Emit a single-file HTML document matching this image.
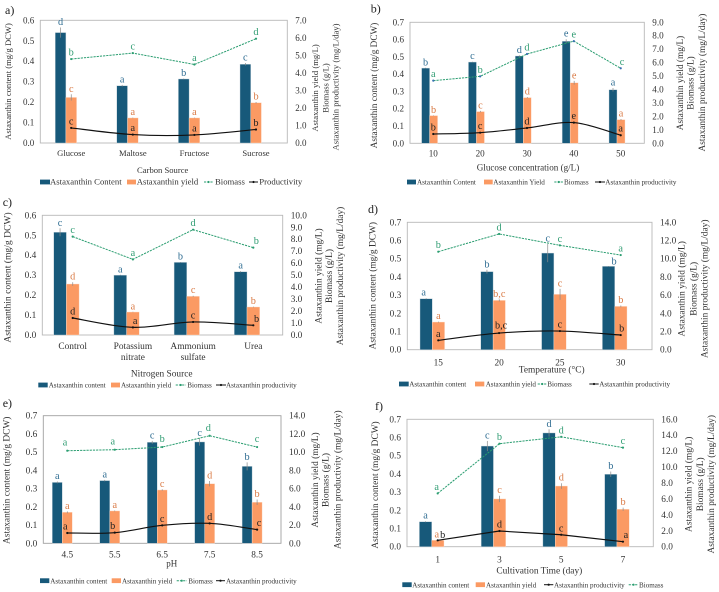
<!DOCTYPE html>
<html lang="en">
<head>
<meta charset="utf-8">
<title>Astaxanthin production charts</title>
<style>
html,body{margin:0;padding:0;background:#fff;width:719px;height:592px;overflow:hidden}
svg{display:block}
text{font-family:"Liberation Serif",serif;fill:#333}
</style>
</head>
<body>
<svg id="figure" xmlns="http://www.w3.org/2000/svg" width="719" height="592" viewBox="0 0 719 592"></svg>
<script>
/* ---------- panel a data ---------- */
const aCategories = [['Glucose'], ['Maltose'], ['Fructose'], ['Sucrose']];
const aLeftTicks = ['0.0','0.1','0.2','0.3','0.4','0.5','0.6'];
const aRightTicks = ['0.0','1.0','2.0','3.0','4.0','5.0','6.0','7.0'];
const aContent = [0.54, 0.28, 0.313, 0.385];
const aContentErr = [0.025, 0.004, 0.002, 0.006];
const aYield = [2.6, 1.43, 1.43, 2.3];
const aYieldErr = [0.18, 0.02, 0.02, 0.04];
const aBiomass = [4.79, 5.13, 4.48, 5.95];
const aProductivity = [0.86, 0.48, 0.46, 0.77];
const aContentLetters = ['d','a','b','c'];
const aYieldLetters = ['c','a','a','b'];
const aBiomassLetters = ['b','c','a','d'];
const aProductivityLetters = ['c','a','a','b'];

/* ---------- panel b data ---------- */
const bCategories = [['10'], ['20'], ['30'], ['40'], ['50']];
const bLeftTicks = ['0.0','0.1','0.2','0.3','0.4','0.5','0.6','0.7'];
const bRightTicks = ['0.0','1.0','2.0','3.0','4.0','5.0','6.0','7.0','8.0','9.0'];
const bContent = [0.435, 0.47, 0.505, 0.59, 0.31];
const bContentErr = [0.002, 0.002, 0.004, 0.012, 0.01];
const bYield = [2.06, 2.36, 3.4, 4.5, 1.76];
const bYieldErr = [0.02, 0.05, 0.04, 0.14, 0.05];
const bBiomass = [4.66, 4.98, 6.64, 7.6, 5.58];
const bProductivity = [0.69, 0.79, 1.14, 1.54, 0.6];
const bContentLetters = ['b','c','d','e','a'];
const bYieldLetters = ['b','c','d','e','a'];
const bBiomassLetters = ['a','b','d','e','c'];
const bProductivityLetters = ['b','c','d','e','a'];

/* ---------- panel c data ---------- */
const cCategories = [['Control'], ['Potassium','nitrate'], ['Ammonium','sulfate'], ['Urea']];
const cLeftTicks = ['0.0','0.1','0.2','0.3','0.4','0.5','0.6'];
const cRightTicks = ['0.0','1.0','2.0','3.0','4.0','5.0','6.0','7.0','8.0','9.0','10.0'];
const cContent = [0.515, 0.30, 0.364, 0.317];
const cContentErr = [0.02, 0.002, 0.002, 0.003];
const cYield = [4.26, 1.92, 3.23, 2.34];
const cYieldErr = [0.15, 0.02, 0.05, 0.03];
const cBiomass = [8.22, 6.32, 8.8, 7.3];
const cProductivity = [1.42, 0.64, 1.09, 0.81];
const cContentLetters = ['c','a','b','a'];
const cYieldLetters = ['d','a','c','b'];
const cBiomassLetters = ['c','a','d','b'];
const cProductivityLetters = ['d','a','c','b'];

/* ---------- panel d data ---------- */
const dCategories = [['15'], ['20'], ['25'], ['30']];
const dLeftTicks = ['0.0','0.1','0.2','0.3','0.4','0.5','0.6','0.7'];
const dRightTicks = ['0.0','2.0','4.0','6.0','8.0','10.0','12.0','14.0'];
const dContent = [0.28, 0.429, 0.531, 0.458];
const dContentErr = [0.003, 0.01, 0.05, 0.002];
const dYield = [3.04, 5.42, 6.08, 4.76];
const dYieldErr = [0.05, 0.12, 0.6, 0.1];
const dBiomass = [10.77, 12.72, 11.47, 10.4];
const dProductivity = [1.03, 1.83, 2.05, 1.61];
const dContentLetters = ['a','b','c','b'];
const dYieldLetters = ['a','b,c','c','b'];
const dBiomassLetters = ['b','d','c','a'];
const dProductivityLetters = ['a','b,c','c','b'];

/* ---------- panel e data ---------- */
const eCategories = [['4.5'], ['5.5'], ['6.5'], ['7.5'], ['8.5']];
const eLeftTicks = ['0.0','0.1','0.2','0.3','0.4','0.5','0.6','0.7'];
const eRightTicks = ['0.0','2.0','4.0','6.0','8.0','10.0','12.0','14.0'];
const eContent = [0.334, 0.344, 0.554, 0.556, 0.422];
const eContentErr = [0.005, 0.004, 0.008, 0.02, 0.022];
const eYield = [3.4, 3.55, 5.85, 6.54, 4.5];
const eYieldErr = [0.1, 0.05, 0.08, 0.3, 0.3];
const eBiomass = [10.16, 10.27, 10.56, 11.8, 10.56];
const eProductivity = [1.13, 1.17, 1.97, 2.19, 1.5];
const eContentLetters = ['a','a','c','c','b'];
const eYieldLetters = ['a','a','c','d','b'];
const eBiomassLetters = ['a','a','b','d','c'];
const eProductivityLetters = ['a','b','c','d','c'];

/* ---------- panel f data ---------- */
const fCategories = [['1'], ['3'], ['5'], ['7']];
const fLeftTicks = ['0.0','0.1','0.2','0.3','0.4','0.5','0.6','0.7'];
const fRightTicks = ['0.0','2.0','4.0','6.0','8.0','10.0','12.0','14.0','16.0'];
const fContent = [0.137, 0.553, 0.625, 0.398];
const fContentErr = [0.003, 0.028, 0.02, 0.015];
const fYield = [0.8, 6, 7.62, 4.7];
const fYieldErr = [0.03, 0.4, 0.35, 0.2];
const fBiomass = [6.7, 12.94, 13.8, 12.44];
const fProductivity = [0.8, 1.97, 1.5, 0.63];
const fContentLetters = ['a','c','d','b'];
const fYieldLetters = ['a','c','d','b'];
const fBiomassLetters = ['a','b','d','c'];
const fProductivityLetters = ['b','d','c','a'];

/* ---------- layout of each panel ---------- */
const panels = [
 {id:'a', tag:'a)', tagX:5, tagY:14, box:[40.3,20.3,287.3,143], barW:10.7, barOff:5.3, tick:9, cat:8.6, catY:153, smooth:true,
  first:71.2, step:61.6, frame:'#b8b8b8', biomassLift:3.5,
  cats:aCategories, lt:aLeftTicks, rt:aRightTicks, content:aContent, contentErr:aContentErr, yld:aYield, yldErr:aYieldErr, biomass:aBiomass, prod:aProductivity,
  lc:aContentLetters, ly:aYieldLetters, lb:aBiomassLetters, lp:aProductivityLetters,
  leftTitle:{x:8,y:81.5,size:8.6,text:'Astaxanthin content (mg/g DCW)'},
  rightTitles:[{x:315,y:88,size:8.6,text:'Astaxanthin yield (mg/L)'},{x:325.7,y:88,size:8.6,text:'Biomass (g/L)'},{x:335.7,y:87,size:8.6,text:'Astaxanthin productivity (mg/L/day)'}],
  xTitle:{x:162.7,y:170,size:8.6,text:'Carbon Source'},
  legendY:182, legendSize:8.7,
  legend:[{k:'content',x0:40,x1:50,tx:50,text:'Astaxanthin Content'},{k:'yield',x0:127,x1:136,tx:136.7,text:'Astaxanthin yield'},{k:'biomass',x0:204,x1:213,tx:215,text:'Biomass'},{k:'prod',x0:249,x1:258,tx:259.3,text:'Productivity'}]},
 {id:'b', tag:'b)', tagX:370.7, tagY:12.5, box:[410,22.3,644.3,143.3], barW:8, barOff:3.7, tick:9.1, cat:9.1, catY:153.5, smooth:true,
  first:433.3, step:46.85, frame:'#b8b8b8', biomassLift:3.5,
  cats:bCategories, lt:bLeftTicks, rt:bRightTicks, content:bContent, contentErr:bContentErr, yld:bYield, yldErr:bYieldErr, biomass:bBiomass, prod:bProductivity,
  lc:bContentLetters, ly:bYieldLetters, lb:bBiomassLetters, lp:bProductivityLetters,
  leftTitle:{x:374,y:85.5,size:9.26,text:'Astaxanthin content (mg/g DCW)'},
  rightTitles:[{x:680,y:83,size:9.3,text:'Astaxanthin yield (mg/L)'},{x:690.7,y:83,size:9.3,text:'Biomass (g/L)'},{x:702,y:82.6,size:9.34,text:'Astaxanthin productivity (mg/L/day)'}],
  xTitle:{x:528,y:167.7,size:9.1,text:'Glucose concentration (g/L)'},
  legendY:182, legendSize:7.15,
  legend:[{k:'content',x0:407,x1:416,tx:417,text:'Astaxanthin Content'},{k:'yield',x0:484,x1:492.7,tx:493.3,text:'Astaxanthin Yield'},{k:'biomass',x0:554.3,x1:563.3,tx:564,text:'Biomass'},{k:'prod',x0:595,x1:605,tx:605.3,text:'Astaxanthin productivity'}]},
 {id:'c', tag:'c)', tagX:2.7, tagY:206, box:[42.3,215.3,282.7,335], barW:12.7, barOff:6.3, tick:9.3, cat:9.4, catY:346, smooth:true,
  first:72.7, step:60.2, frame:'#b8b8b8', biomassLift:3.5,
  cats:cCategories, lt:cLeftTicks, rt:cRightTicks, content:cContent, contentErr:cContentErr, yld:cYield, yldErr:cYieldErr, biomass:cBiomass, prod:cProductivity,
  lc:cContentLetters, ly:cYieldLetters, lb:cBiomassLetters, lp:cProductivityLetters,
  leftTitle:{x:7.3,y:277.5,size:9.6,text:'Astaxanthin content (mg/g DCW)'},
  rightTitles:[{x:318.3,y:276,size:9.4,text:'Astaxanthin yield (mg/L)'},{x:329,y:276,size:9.4,text:'Biomass (g/L)'},{x:340,y:276,size:9.4,text:'Astaxanthin productivity (mg/L/day)'}],
  xTitle:{x:161.7,y:373.3,size:9.4,text:'Nitrogen Source'},
  legendY:385, legendSize:7.1,
  legend:[{k:'content',x0:38.3,x1:47.7,tx:48.7,text:'Astaxanthin content'},{k:'yield',x0:111,x1:120,tx:121,text:'Astaxanthin yield'},{k:'biomass',x0:175.7,x1:185.7,tx:187.3,text:'Biomass'},{k:'prod',x0:216,x1:226,tx:226,text:'Astaxanthin productivity'}]},
 {id:'d', tag:'d)', tagX:368, tagY:213, box:[407.3,222.3,652,349.7], barW:12.3, barOff:6, tick:9.3, cat:9.3, catY:362.7, smooth:true,
  first:438.3, step:60.8, frame:'#b8b8b8', biomassLift:3.5,
  cats:dCategories, lt:dLeftTicks, rt:dRightTicks, content:dContent, contentErr:dContentErr, yld:dYield, yldErr:dYieldErr, biomass:dBiomass, prod:dProductivity,
  lc:dContentLetters, ly:dYieldLetters, lb:dBiomassLetters, lp:dProductivityLetters,
  leftTitle:{x:372.7,y:285.7,size:9.4,text:'Astaxanthin content (mg/g DCW)'},
  rightTitles:[{x:681.7,y:288.8,size:9.4,text:'Astaxanthin yield (mg/L)'},{x:693.3,y:288.8,size:9.4,text:'Biomass (g/L)'},{x:704.3,y:288.8,size:9.4,text:'Astaxanthin productivity (mg/L/day)'}],
  xTitle:{x:551.7,y:369.3,size:9.4,text:'Temperature (°C)'},
  legendY:384, legendSize:7.1,
  legend:[{k:'content',x0:399,x1:408.7,tx:409.3,text:'Astaxanthin content'},{k:'yield',x0:475,x1:484.3,tx:485.7,text:'Astaxanthin yield'},{k:'biomass',x0:537.7,x1:546.7,tx:547.3,text:'Biomass'},{k:'prod',x0:589.3,x1:598.7,tx:599.3,text:'Astaxanthin productivity'}]},
 {id:'e', tag:'e)', tagX:2.7, tagY:407, box:[43.3,415.7,281,543.3], barW:10, barOff:5, tick:9.3, cat:9.3, catY:554.3, smooth:true,
  first:67.3, step:47.45, frame:'#a0a0a0', biomassLift:5,
  cats:eCategories, lt:eLeftTicks, rt:eRightTicks, content:eContent, contentErr:eContentErr, yld:eYield, yldErr:eYieldErr, biomass:eBiomass, prod:eProductivity,
  lc:eContentLetters, ly:eYieldLetters, lb:eBiomassLetters, lp:eProductivityLetters,
  leftTitle:{x:6.7,y:480.3,size:9.4,text:'Astaxanthin content (mg/g DCW)'},
  rightTitles:[{x:315,y:480,size:9.4,text:'Astaxanthin yield (mg/L)'},{x:325.7,y:480,size:9.4,text:'Biomass (g/L)'},{x:337.3,y:479.7,size:9.4,text:'Astaxanthin productivity (mg/L/day)'}],
  xTitle:{x:171.7,y:563.7,size:9,text:'pH'},
  legendY:580.7, legendSize:7.1,
  legend:[{k:'content',x0:40,x1:49.3,tx:50.3,text:'Astaxanthin content'},{k:'yield',x0:111.7,x1:121,tx:122,text:'Astaxanthin yield'},{k:'biomass',x0:176.7,x1:186.7,tx:188.3,text:'Biomass'},{k:'prod',x0:216,x1:225,tx:226,text:'Astaxanthin productivity'}]},
 {id:'f', tag:'f)', tagX:375, tagY:410, box:[407,419.3,653.3,546.7], barW:12.3, barOff:6, tick:9.3, cat:9.3, catY:559.3, smooth:false,
  first:437.7, step:61.75, frame:'#b8b8b8', biomassLift:3.5,
  cats:fCategories, lt:fLeftTicks, rt:fRightTicks, content:fContent, contentErr:fContentErr, yld:fYield, yldErr:fYieldErr, biomass:fBiomass, prod:fProductivity,
  lc:fContentLetters, ly:fYieldLetters, lb:fBiomassLetters, lp:fProductivityLetters,
  leftTitle:{x:375,y:485,size:9.4,text:'Astaxanthin content (mg/g DCW)'},
  rightTitles:[{x:688.3,y:484.3,size:9.4,text:'Astaxanthin yield (mg/L)'},{x:700,y:484.3,size:9.4,text:'Biomass (g/L)'},{x:711,y:484.3,size:9.4,text:'Astaxanthin productivity (mg/L/day)'}],
  xTitle:{x:539.3,y:570.7,size:9.4,text:'Cultivation Time (day)'},
  legendY:584.7, legendSize:7.1,
  legend:[{k:'content',x0:402.3,x1:411.7,tx:412.3,text:'Astaxanthin content'},{k:'yield',x0:475.7,x1:485,tx:486,text:'Astaxanthin yield'},{k:'prod',x0:544,x1:553.3,tx:554,text:'Astaxanthin productivity'},{k:'biomass',x0:628.7,x1:638.3,tx:639,text:'Biomass'}]}
];

/* Hand placement offsets for letters the source figure moved off their mark */
const letterNudges = {
  'd-content-0':[-2.5,0], 'd-content-3':[5.5,1], 'd-prod-1':[2,-1], 'd-prod-3':[1,0],
  'e-biomass-0':[-2.3,0], 'e-biomass-1':[-2,0], 'e-biomass-3':[-1.3,0], 'e-prod-0':[-2,0], 'e-prod-1':[-2,0], 'e-prod-4':[2,0],
  'f-prod-0':[5,1], 'f-prod-3':[3,0], 'f-yield-0':[-1,0], 'f-biomass-0':[-1,0],
  'c-prod-1':[2.3,0], 'c-prod-3':[3.3,0], 'c-biomass-3':[3,0], 'b-biomass-4':[1.3,0]
};

const COLORS = {content:'#17597a', yield:'#fb9a63', biomass:'#2a9d70', prod:'#111',
  lContent:'#2f6d92', lYield:'#d97a45', lBiomass:'#2f9c72', lProd:'#222', err:'#8a8a8a'};
const NS = 'http://www.w3.org/2000/svg';
const root = document.getElementById('figure');

function make(parent, tag, attrs, txt){
  const n = document.createElementNS(NS, tag);
  for (const k in attrs) n.setAttribute(k, attrs[k]);
  if (txt !== undefined) n.textContent = txt;
  parent.appendChild(n);
  return n;
}
function smoothPath(pts){
  let d = 'M' + pts[0][0] + ' ' + pts[0][1];
  for (let i = 0; i < pts.length - 1; i++){
    const p0 = pts[Math.max(0,i-1)], p1 = pts[i], p2 = pts[i+1], p3 = pts[Math.min(pts.length-1,i+2)];
    const c1x = p1[0] + (p2[0]-p0[0])/6, c1y = p1[1] + (p2[1]-p0[1])/6;
    const c2x = p2[0] - (p3[0]-p1[0])/6, c2y = p2[1] - (p3[1]-p1[1])/6;
    d += 'C' + c1x + ' ' + c1y + ' ' + c2x + ' ' + c2y + ' ' + p2[0] + ' ' + p2[1];
  }
  return d;
}

function drawPanel(p){
  const [L,T,R,B] = p.box;
  const leftMax = Number(p.lt[p.lt.length-1]);
  const rightMax = Number(p.rt[p.rt.length-1]);
  const yLeft = v => B - (v/leftMax)*(B-T);
  const yRight = v => B - (v/rightMax)*(B-T);
  const xCat = i => p.first + i*p.step;

  const g = make(root,'g',{});
  
  

  const tag = make(g,'text',{x:p.tagX,y:p.tagY,'font-size':12,style:'fill:#222'},p.tag);
  
  

  const frame = make(g,'rect',{x:L,y:T,width:R-L,height:B-T,fill:'#fff',stroke:p.frame,'stroke-width':0.9});
  
  

  p.lt.forEach(t=>{
    const n = make(g,'text',{x:L-6,y:yLeft(Number(t))+3,'text-anchor':'end','font-size':p.tick},t);
    
    
  });
  p.rt.forEach(t=>{
    const n = make(g,'text',{x:R+8,y:yRight(Number(t))+3,'font-size':p.tick},t);
    
    
  });

  p.cats.forEach((lines,i)=>{
    lines.forEach((line,j)=>{
      const n = make(g,'text',{x:xCat(i),y:p.catY+3+j*11,'text-anchor':'middle','font-size':p.cat},line);
      
      
    });
  });

  p.content.forEach((v,i)=>{
    const x = xCat(i)-p.barOff-p.barW;
    const r = make(g,'rect',{x:x,y:yLeft(v),width:p.barW,height:B-yLeft(v),fill:COLORS.content,stroke:'#c9d5dc','stroke-width':0.4});
    
    
    const e = make(g,'line',{x1:x+p.barW/2,x2:x+p.barW/2,y1:yLeft(v-p.contentErr[i]),y2:yLeft(v+p.contentErr[i]),stroke:COLORS.err,'stroke-width':0.7});
    
    
  });
  p.yld.forEach((v,i)=>{
    const x = xCat(i)-p.barOff;
    const r = make(g,'rect',{x:x,y:yRight(v),width:p.barW,height:B-yRight(v),fill:COLORS.yield,stroke:'#fde0cf','stroke-width':0.4});
    
    
    const e = make(g,'line',{x1:x+p.barW/2,x2:x+p.barW/2,y1:yRight(v-p.yldErr[i]),y2:yRight(v+p.yldErr[i]),stroke:COLORS.err,'stroke-width':0.7});
    
    
  });

  const bPts = p.biomass.map((v,i)=>[xCat(i),yRight(v)]);
  const bLine = make(g,'path',{d:'M'+bPts.map(q=>q.join(' ')).join('L'),fill:'none',stroke:COLORS.biomass,'stroke-width':1,'stroke-dasharray':'2.2 1'});
  
  
  bPts.forEach(q=>{
    const c = make(g,'circle',{cx:q[0],cy:q[1],r:1.1,fill:p.id==='b'?'#3a6fb0':COLORS.biomass});
    
    
  });

  const pPts = p.prod.map((v,i)=>[xCat(i),yRight(v)]);
  const pd = p.smooth ? smoothPath(pPts) : 'M'+pPts.map(q=>q.join(' ')).join('L');
  const pLine = make(g,'path',{d:pd,fill:'none',stroke:COLORS.prod,'stroke-width':1.15});
  
  
  pPts.forEach(q=>{
    const c = make(g,'circle',{cx:q[0],cy:q[1],r:1.1,fill:COLORS.prod});
    
    
  });

  const letter = (series,i,x,y,s,col)=>{
    const nudge = letterNudges[p.id + '-' + series + '-' + i] || [0,0];
    const n = make(g,'text',{x:x+nudge[0],y:y+nudge[1],'text-anchor':'middle','font-size':10.3,style:'fill:'+col},s);
    
    
  };
  p.lc.forEach((s,i)=>letter('content',i,xCat(i)-p.barOff-p.barW/2, yLeft(p.content[i]+p.contentErr[i])-2.5, s, COLORS.lContent));
  p.ly.forEach((s,i)=>letter('yield',i,xCat(i)-p.barOff+p.barW/2, yRight(p.yld[i]+p.yldErr[i])-2.5, s, COLORS.lYield));
  p.lb.forEach((s,i)=>letter('biomass',i,xCat(i), yRight(p.biomass[i])-p.biomassLift, s, COLORS.lBiomass));
  p.lp.forEach((s,i)=>letter('prod',i,xCat(i), yRight(p.prod[i])-3.5, s, COLORS.lProd));

  const titles = [p.leftTitle].concat(p.rightTitles);
  titles.forEach(t=>{
    const n = make(g,'text',{transform:'translate('+(t.x+3)+' '+t.y+') rotate(-90)','text-anchor':'middle','font-size':t.size},t.text);
    
    
  });

  const xt = make(g,'text',{x:p.xTitle.x,y:p.xTitle.y+3,'text-anchor':'middle','font-size':p.xTitle.size},p.xTitle.text);
  
  

  p.legend.forEach(item=>{
    const lg = make(g,'g',{});
    
    
    const y = p.legendY;
    if (item.k==='content' || item.k==='yield'){
      make(lg,'rect',{x:item.x0,y:y-2.4,width:item.x1-item.x0,height:4.8,fill:item.k==='content'?COLORS.content:COLORS.yield});
    } else {
      const col = item.k==='biomass'?COLORS.biomass:COLORS.prod;
      make(lg,'line',{x1:item.x0,x2:item.x1,y1:y,y2:y,stroke:col,'stroke-width':1,'stroke-dasharray':item.k==='biomass'?'2.2 1':'none'});
      make(lg,'circle',{cx:(item.x0+item.x1)/2,cy:y,r:1.1,fill:col});
    }
    make(lg,'text',{x:item.tx,y:y+2.6,'font-size':p.legendSize},item.text);
  });
}
panels.forEach(drawPanel);
</script>
</body>
</html>
